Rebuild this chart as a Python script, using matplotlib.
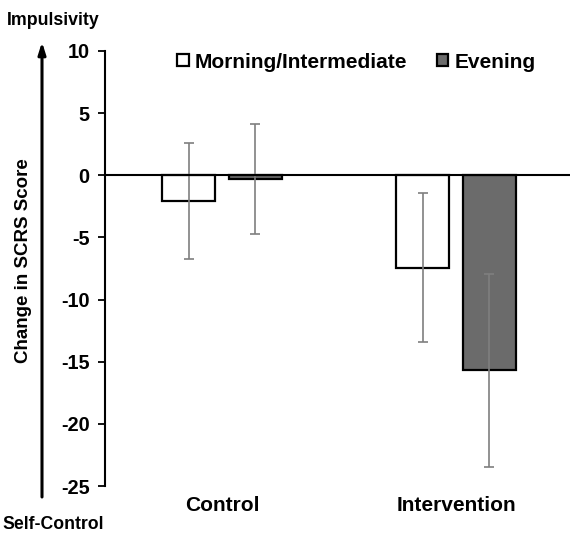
import matplotlib
matplotlib.use("Agg")
import matplotlib.pyplot as plt
import numpy as np

# data
groups = ["Control", "Intervention"]
series = ["Morning/Intermediate", "Evening"]
morning_mean = [-2.05, -7.45]
morning_err = [4.65, 6.0]
evening_mean = [-0.3, -15.7]
evening_err = [4.45, 7.75]
yticks = [10, 5, 0, -5, -10, -15, -20, -25]

plt.rcParams["font.family"] = ["Liberation Sans", "DejaVu Sans"]
plt.rcParams["font.weight"] = "bold"

fig = plt.figure(figsize=(5.7, 5.33), dpi=100)
ax = fig.add_axes([105 / 570, 47 / 533, 468 / 570, 435 / 533])

x = np.arange(len(groups))
w = 0.227
off = 0.142
err_kw = dict(ecolor="#7f7f7f", elinewidth=1.2, capsize=3.5, capthick=1.2)
ax.bar(x - off, morning_mean, w, yerr=morning_err, color="white",
       edgecolor="black", linewidth=1.6, error_kw=err_kw, label=series[0], zorder=2)
ax.bar(x + off, evening_mean, w, yerr=evening_err, color="#6b6b6b",
       edgecolor="black", linewidth=1.6, error_kw=err_kw, label=series[1], zorder=2)

ax.axhline(0, color="black", linewidth=1.5, zorder=3)
ax.set_xlim(-0.5, 1.5)
ax.set_ylim(-25, 10)
ax.set_yticks(yticks)
ax.set_yticklabels([str(t) for t in yticks], fontsize=14.3, fontweight="bold")
ax.set_xticks(x)
ax.set_xticklabels(groups, fontsize=15, fontweight="bold")
ax.tick_params(axis="x", length=0, pad=7)
ax.tick_params(axis="y", length=5, width=1.3, direction="out", pad=6)
for s in ["top", "right", "bottom"]:
    ax.spines[s].set_visible(False)
ax.spines["left"].set_linewidth(1.5)

leg = ax.legend(loc="center left", bbox_to_anchor=(167 / 570, 1 - 62 / 533),
                bbox_transform=fig.transFigure, ncol=2, frameon=False, borderpad=0,
                prop={"size": 15, "weight": "bold"}, handlelength=0.55, handleheight=0.55,
                handletextpad=0.3, columnspacing=1.4)

ax.set_ylabel("Change in SCRS Score", fontsize=13.5, fontweight="bold")
ax.yaxis.set_label_coords(-0.157, 0.518)

# arrow from self-control to impulsivity
ax.annotate("", xy=(42 / 570, 1 - 42 / 533), xytext=(42 / 570, 1 - 497 / 533),
            xycoords="figure fraction", textcoords="figure fraction", annotation_clip=False,
            arrowprops=dict(arrowstyle="-|>,head_length=0.7,head_width=0.22", color="black",
                            lw=2.2, mutation_scale=10, shrinkA=0, shrinkB=0))
fig.text(7 / 570, 1 - 25 / 533, "Impulsivity", fontsize=12.8, fontweight="bold", va="baseline")
fig.text(2 / 570, 1 - 529 / 533, "Self-Control", fontsize=12.7, fontweight="bold", va="baseline")

fig.savefig("out.png", dpi=100)
